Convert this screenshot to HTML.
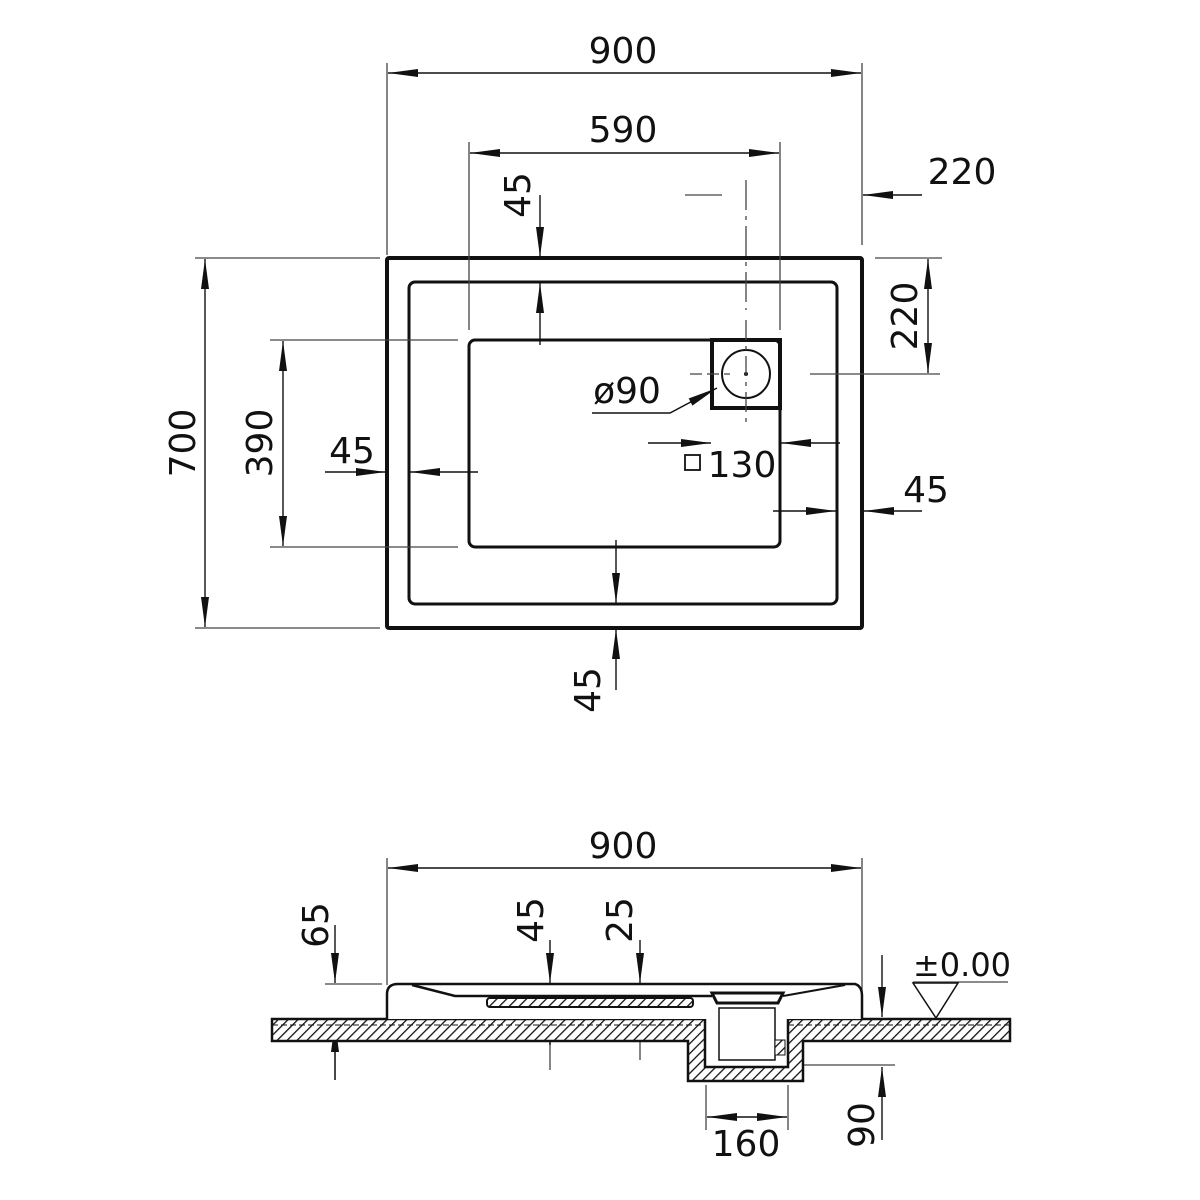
<!DOCTYPE html>
<html><head><meta charset="utf-8"><style>
html,body{margin:0;padding:0;background:#fff}
svg{display:block}
text{font-family:"DejaVu Sans","Liberation Sans",sans-serif;fill:#111}
</style></head><body>
<svg width="1200" height="1200" viewBox="0 0 1200 1200" xmlns="http://www.w3.org/2000/svg">
<defs>
<marker id="a" viewBox="0 0 30 10" refX="30" refY="5" markerWidth="30" markerHeight="10" markerUnits="userSpaceOnUse" orient="auto"><path d="M0,1 L30,5 L0,9 Z" fill="#111"/></marker>
<pattern id="h" width="7" height="7" patternUnits="userSpaceOnUse" patternTransform="rotate(45)"><rect width="7" height="7" fill="#fff"/><line x1="0" y1="0" x2="0" y2="7" stroke="#111" stroke-width="2.6"/></pattern>
</defs>
<g stroke="#111" fill="none">
<rect x="387" y="258" width="475" height="370" stroke-width="4" rx="2"/>
<rect x="409" y="282" width="428" height="322" stroke-width="3" rx="6"/>
<rect x="469" y="340" width="311" height="207" stroke-width="3" rx="6"/>
<rect x="712" y="340" width="68" height="68" stroke-width="4"/>
<circle cx="746" cy="374" r="24" stroke-width="2"/>
<circle cx="746" cy="374" r="1.5" fill="#111"/>
<g stroke-width="1.3" stroke="#444">
<line x1="746" y1="180" x2="746" y2="310" stroke-dasharray="30 6 4 6"/>
<line x1="746" y1="320" x2="746" y2="425" stroke-dasharray="20 6 4 6"/>
<line x1="690" y1="374" x2="730" y2="374" stroke-dasharray="12 5"/>
<line x1="810" y1="374" x2="940" y2="374"/>
<line x1="685" y1="195" x2="722" y2="195"/>
<line x1="387" y1="63" x2="387" y2="255"/>
<line x1="862" y1="63" x2="862" y2="245"/>
<line x1="469" y1="142" x2="469" y2="330"/>
<line x1="780" y1="142" x2="780" y2="330"/>
<line x1="195" y1="258" x2="380" y2="258"/>
<line x1="195" y1="628" x2="380" y2="628"/>
<line x1="270" y1="340" x2="458" y2="340"/>
<line x1="270" y1="547" x2="458" y2="547"/>
<line x1="875" y1="258" x2="942" y2="258"/>
</g>
<g stroke-width="1.4" marker-end="url(#a)">
<line x1="623" y1="73" x2="388" y2="73"/><line x1="623" y1="73" x2="861" y2="73"/>
<line x1="623" y1="153" x2="470" y2="153"/><line x1="623" y1="153" x2="779" y2="153"/>
<line x1="205" y1="443" x2="205" y2="259"/><line x1="205" y1="443" x2="205" y2="627"/>
<line x1="283" y1="443" x2="283" y2="341"/><line x1="283" y1="443" x2="283" y2="546"/>
<line x1="928" y1="316" x2="928" y2="259"/><line x1="928" y1="316" x2="928" y2="373"/>
<line x1="922" y1="195" x2="863" y2="195"/>
<line x1="540" y1="195" x2="540" y2="257"/>
<line x1="540" y1="345" x2="540" y2="283"/>
<line x1="325" y1="472" x2="386" y2="472"/>
<line x1="478" y1="472" x2="410" y2="472"/>
<line x1="648" y1="443" x2="711" y2="443"/>
<line x1="840" y1="443" x2="781" y2="443"/>
<line x1="773" y1="511" x2="836" y2="511"/>
<line x1="922" y1="511" x2="864" y2="511"/>
<line x1="616" y1="540" x2="616" y2="603"/>
<line x1="616" y1="690" x2="616" y2="629"/>
<polyline points="592,413 670,413 717,388"/>
</g>
<rect x="685" y="455" width="15" height="15" stroke-width="1.8"/>
<g stroke-width="1.3" stroke="#444">
<line x1="387" y1="858" x2="387" y2="985"/>
<line x1="862" y1="858" x2="862" y2="995"/>
<line x1="325" y1="984" x2="382" y2="984"/>
<line x1="913" y1="982" x2="1008" y2="982"/>
<line x1="790" y1="1065" x2="895" y2="1065"/>
<line x1="706" y1="1085" x2="706" y2="1130"/>
<line x1="788" y1="1085" x2="788" y2="1130"/>
<line x1="550" y1="1040" x2="550" y2="1070"/>
<line x1="640" y1="1040" x2="640" y2="1060"/>
<line x1="335" y1="1045" x2="335" y2="1080"/>
</g>
<g stroke-width="1.4" marker-end="url(#a)">
<line x1="623" y1="868" x2="388" y2="868"/><line x1="623" y1="868" x2="861" y2="868"/>
<line x1="335" y1="925" x2="335" y2="983"/>
<line x1="335" y1="1080" x2="335" y2="1022"/>
<line x1="550" y1="940" x2="550" y2="983"/>
<line x1="550" y1="1045" x2="550" y2="1008"/>
<line x1="640" y1="940" x2="640" y2="983"/>
<line x1="640" y1="1040" x2="640" y2="1008"/>
<line x1="882" y1="955" x2="882" y2="1017"/>
<line x1="882" y1="1140" x2="882" y2="1067"/>
<line x1="746" y1="1117" x2="707" y2="1117"/><line x1="746" y1="1117" x2="787" y2="1117"/>
</g>
<path d="M272,1019 H705 V1067 H788 V1019 H1010 V1041 H803 V1081 H688 V1041 H272 Z" fill="url(#h)" stroke-width="2.5"/>
<line x1="272" y1="1025" x2="705" y2="1025" stroke-width="1" stroke-dasharray="6 3"/>
<line x1="788" y1="1025" x2="1010" y2="1025" stroke-width="1" stroke-dasharray="6 3"/>
<path d="M387,1019 V994 Q387,984 398,984 H855 Q862,986 862,996 V1019" fill="#fff" stroke-width="2.5"/>
<path d="M412,985 L455,996 H712" stroke-width="2.5"/>
<path d="M783,996 L845,985" stroke-width="2"/>
<rect x="487" y="998" width="206" height="9" rx="3" fill="url(#h)" stroke-width="2"/>
<path d="M712,993 H783 L778,1003 H717 Z" fill="#fff" stroke-width="3"/>
<rect x="719" y="1008" width="56" height="52" fill="#fff" stroke-width="1.5"/>
<rect x="775" y="1040" width="10" height="15" fill="url(#h)" stroke-width="1"/>
<path d="M913,983 L958,983 L936,1018 Z" fill="none" stroke-width="1.5"/>
</g>
<g font-size="36">
<text x="623" y="63" text-anchor="middle">900</text>
<text x="623" y="142" text-anchor="middle">590</text>
<text x="962" y="184" text-anchor="middle">220</text>
<text x="352" y="463" text-anchor="middle">45</text>
<text x="627" y="403" text-anchor="middle">ø90</text>
<text x="742" y="477" text-anchor="middle">130</text>
<text x="926" y="502" text-anchor="middle">45</text>
<text x="623" y="858" text-anchor="middle">900</text>
<text x="746" y="1156" text-anchor="middle">160</text>
<text x="962" y="976" text-anchor="middle" font-size="32">±0.00</text>
<text transform="translate(530,195) rotate(-90)" text-anchor="middle">45</text>
<text transform="translate(195,443) rotate(-90)" text-anchor="middle">700</text>
<text transform="translate(272,443) rotate(-90)" text-anchor="middle">390</text>
<text transform="translate(917,316) rotate(-90)" text-anchor="middle">220</text>
<text transform="translate(600,690) rotate(-90)" text-anchor="middle">45</text>
<text transform="translate(328,925) rotate(-90)" text-anchor="middle">65</text>
<text transform="translate(543,920) rotate(-90)" text-anchor="middle">45</text>
<text transform="translate(632,920) rotate(-90)" text-anchor="middle">25</text>
<text transform="translate(874,1125) rotate(-90)" text-anchor="middle">90</text>
</g>
</svg>
</body></html>
